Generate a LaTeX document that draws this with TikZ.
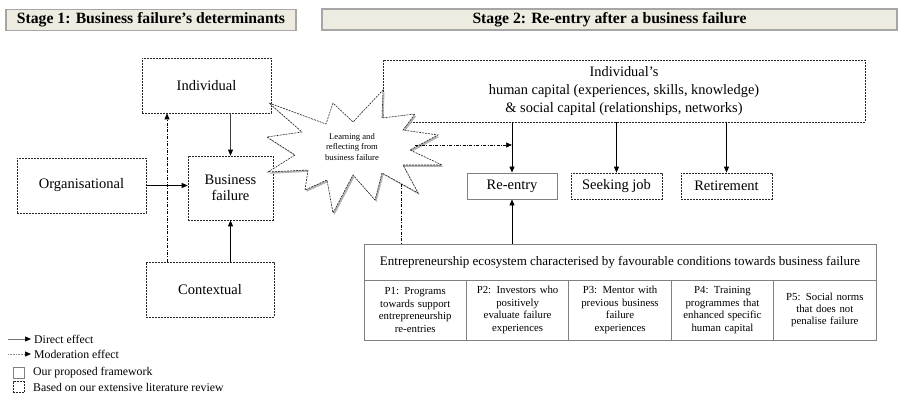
\documentclass[tikz,border=0pt]{standalone}
\usepackage{fontspec}
\setmainfont{Liberation Serif}
\usetikzlibrary{arrows.meta}
\definecolor{hdrfill}{HTML}{EEECE1}
\definecolor{hdrline}{HTML}{A6A6A6}
\definecolor{tblline}{HTML}{808080}
\tikzset{
 hdr/.style={draw=hdrline, fill=hdrfill, line width=1.3pt, font=\fontsize{15.7}{18}\selectfont\bfseries, inner sep=0pt},
 dbox/.style={draw=black!85, line width=0.7pt, dash pattern=on 2pt off 1pt, inner sep=1pt, align=center, font=\fontsize{14.5}{15.5}\selectfont},
 sbox/.style={draw=tblline, line width=0.9pt, inner sep=1pt, align=center, font=\fontsize{14.5}{15.5}\selectfont},
 cell/.style={draw=tblline, line width=0.9pt, inner sep=1pt, align=center, text width=98pt, font=\fontsize{10.8}{12.4}\selectfont, minimum height=60pt, minimum width=102.4pt},
 arr/.style={-{Triangle[length=6pt,width=5pt,black]}, line width=0.8pt},
 modarr/.style={-{Triangle[length=6pt,width=5pt,black]}, line width=0.6pt, dash pattern=on 3pt off 1.5pt on 0.8pt off 1.5pt},
 modline/.style={line width=0.6pt, dash pattern=on 3pt off 1.5pt on 0.8pt off 1.5pt},
 leg/.style={anchor=west, inner sep=0pt, font=\fontsize{11.8}{13}\selectfont},
 starline/.style={draw=black!85, line width=0.6pt, dash pattern=on 2pt off 1pt, fill=white},
}
\begin{document}
\begin{tikzpicture}[x=1pt,y=-1pt]
\useasboundingbox (0,0) rectangle (900,398);
\fill[white] (0,0) rectangle (900,398);

% headers
\node[hdr, minimum width=290pt, minimum height=21pt] (h1) at (151,20) {Stage 1: Business failure’s determinants};
\node[hdr, minimum width=575pt, minimum height=21pt] (h2) at (609.5,19.5) {Stage 2: Re-entry after a business failure};

% stage 1 boxes
\node[dbox, minimum width=129pt, minimum height=55pt] (ind) at (206.5,85.5) {Individual};
\node[dbox, minimum width=129pt, minimum height=55pt] (org) at (81.5,185.5) {Organisational};
\node[dbox, minimum width=85pt, minimum height=64pt] (bf) at (230.5,188) {Business\\failure};
\node[dbox, minimum width=128pt, minimum height=55pt] (ctx) at (210,289.5) {Contextual};

% stage 2 boxes
\node[dbox, minimum width=482pt, minimum height=62pt, font=\fontsize{14.4}{17.6}\selectfont] (hc) at (624,91) {Individual’s\\human capital (experiences, skills, knowledge)\\\& social capital (relationships, networks)};
\node[sbox, minimum width=90pt, minimum height=26pt] (re) at (512,186) {Re-entry};
\node[dbox, minimum width=91pt, minimum height=26pt] (sj) at (616.5,186) {Seeking job};
\node[dbox, minimum width=91pt, minimum height=26pt] (ret) at (726.5,186) {Retirement};

% ecosystem table
\node[draw=tblline, line width=0.9pt, minimum width=512pt, minimum height=36pt, font=\fontsize{13}{15}\selectfont] (eco) at (620,262) {Entrepreneurship ecosystem characterised by favourable conditions towards business failure};
\node[cell] (p1) at (415.2,310) {P1: Programs\\towards support\\entrepreneurship\\re-entries};
\node[cell] (p2) at (517.6,310) {P2: Investors who\\positively\\evaluate failure\\experiences};
\node[cell] (p3) at (620,310) {P3: Mentor with\\previous  business\\failure\\experiences};
\node[cell] (p4) at (722.4,310) {P4: Training\\programmes that\\enhanced specific\\human capital};
\node[cell] (p5) at (824.8,310) {P5: Social norms\\that does not\\penalise failure};

% star (shadow + shape)
\fill[black!30, shift={(1.5,1.8)}] (269,103) -- (326,124) -- (333,103) -- (353,122) -- (383,90) -- (382,118) -- (415,114) -- (403,130) -- (438,135) -- (410,150) -- (442,165) -- (403,165) -- (418,193) -- (382,173) -- (375,200) -- (353,175) -- (333,213) -- (327,180) -- (305,190) -- (308,170) -- (268,172) -- (295,155) -- (267,137) -- (302,132) -- cycle;
\path[starline] (269,103) -- (326,124) -- (333,103) -- (353,122) -- (383,90) -- (382,118) -- (415,114) -- (403,130) -- (438,135) -- (410,150) -- (442,165) -- (403,165) -- (418,193) -- (382,173) -- (375,200) -- (353,175) -- (333,213) -- (327,180) -- (305,190) -- (308,170) -- (268,172) -- (295,155) -- (267,137) -- (302,132) -- cycle;
\node[align=center, inner sep=0pt, font=\fontsize{8.6}{10.8}\selectfont] (learn) at (352,147) {Learning and\\reflecting from\\business failure};

% direct arrows
\draw[arr, draw=black!75] (bf.north |- ind.south) -- (bf.north);
\draw[arr] (org.east) -- (org.east -| bf.west);
\draw[arr] (bf.south |- ctx.north) -- (bf.south);
\draw[arr] (re.north |- hc.south) -- (re.north);
\draw[arr] (sj.north |- hc.south) -- (sj.north);
\draw[arr] (ret.north |- hc.south) -- (ret.north);
\draw[arr] (re.south |- eco.north) -- (re.south);

% moderation arrows
\coordinate (mx) at (167,190);
\draw[modarr] (mx |- ctx.north) -- (mx |- ind.south);
\coordinate (m1) at (415,145);
\draw[modarr] (m1) -- (m1 -| re.north);
\coordinate (m2) at (401,184);
\draw[modline] (m2) -- (m2 |- eco.north);

% legend
\coordinate (la1) at (8,339);
\coordinate (lb1) at (31,339);
\draw[arr, line width=0.7pt, draw=black!55] (la1) -- (lb1);
\node[leg] (lt1) at (34,339) {Direct effect};
\coordinate (la2) at (8,354);
\coordinate (lb2) at (31,354);
\draw[arr, line width=0.6pt, draw=black!45, densely dotted] (la2) -- (lb2);
\node[leg] (lt2) at (34,354) {Moderation effect};
\node[sbox, minimum size=11pt, inner sep=0pt] (sq1) at (18.5,372.5) {};
\node[leg] (lt3) at (33,372.5) {Our proposed framework};
\node[dbox, minimum size=11pt, inner sep=0pt] (sq2) at (18.5,387) {};
\node[leg] (lt4) at (33,387) {Based on our extensive literature review};
\end{tikzpicture}
\end{document}
